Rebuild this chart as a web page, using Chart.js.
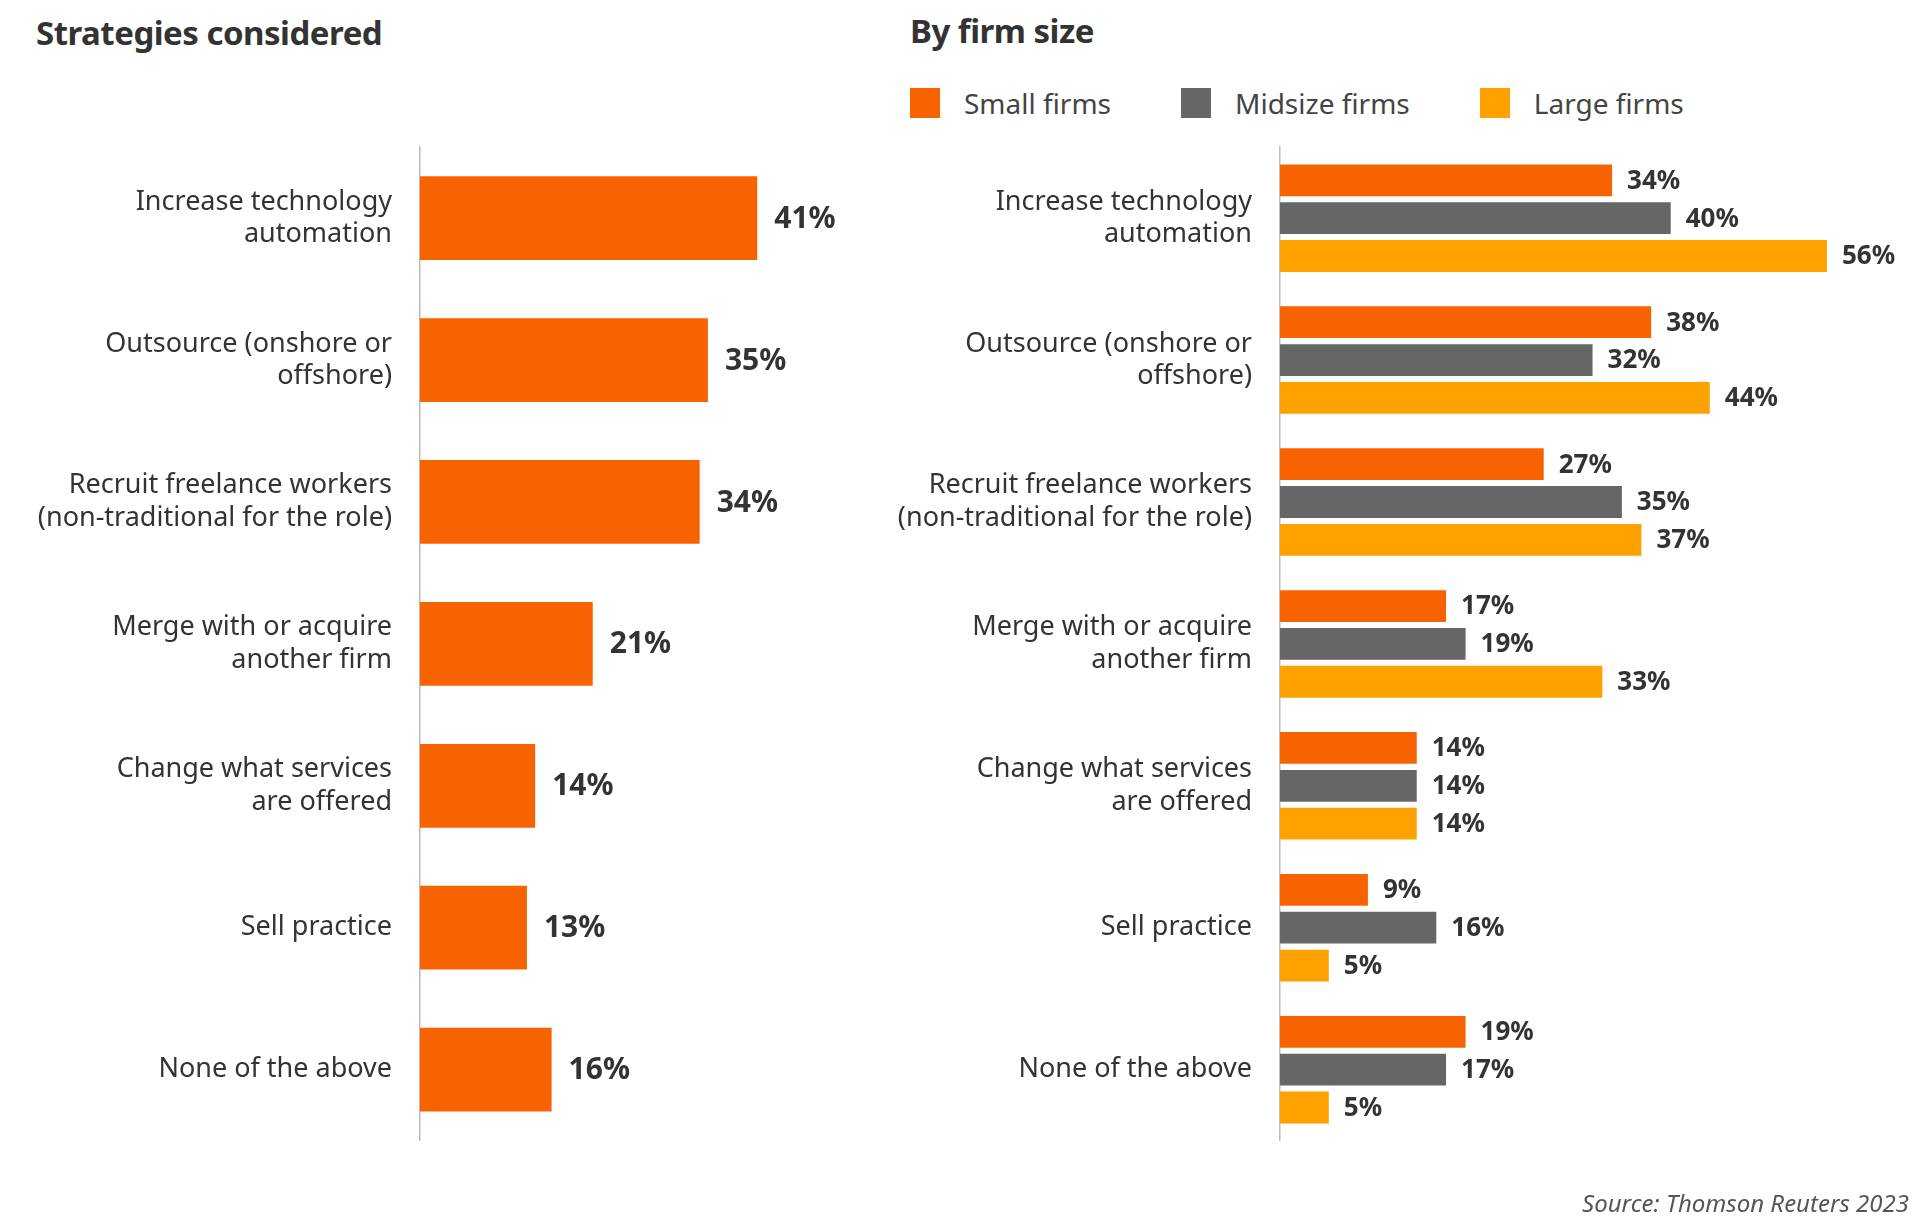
<!DOCTYPE html>
<html>
<head>
<meta charset="utf-8">
<script src="https://cdn.jsdelivr.net/npm/chart.js@4"></script>
<style>
  body { margin: 0; width: 1920px; height: 1224px; background: #fff; font-family: "Noto Sans", sans-serif; color: #333; position: relative; overflow: hidden; }
  .title { position: absolute; font-weight: bold; font-size: 33px; color: #333; letter-spacing: -0.5px; }
  .legend { position: absolute; top: 84px; left: 910px; display: flex; font-size: 28px; color: #444; }
  .legend span { display: flex; align-items: center; margin-right: 70px; }
  .legend i { display: inline-block; width: 30px; height: 30px; margin-right: 24px; }
  .source { position: absolute; right: 11px; top: 1186px; font-style: italic; font-size: 24px; color: #555; }
  canvas { position: absolute; }
</style>
</head>
<body>
<div class="title" style="left:36px;top:10px">Strategies considered</div>
<div class="title" style="left:910px;top:8px">By firm size</div>
<div class="legend">
  <span><i style="background:#f76300"></i>Small firms</span>
  <span><i style="background:#666666"></i>Midsize firms</span>
  <span><i style="background:#ffa200"></i>Large firms</span>
</div>
<div style="position:absolute;left:0;top:111px;width:930px;height:1082px"><canvas id="left"></canvas></div>
<div style="position:absolute;left:880px;top:111px;width:1030px;height:1082px"><canvas id="right"></canvas></div>
<div class="source">Source: Thomson Reuters 2023</div>
<script>
// Categories and values
const categories = [
  ['Increase technology', 'automation'],
  ['Outsource (onshore or', 'offshore)'],
  ['Recruit freelance workers', '(non-traditional for the role)'],
  ['Merge with or acquire', 'another firm'],
  ['Change what services', 'are offered'],
  ['Sell practice'],
  ['None of the above']
];
const overall = [41, 35, 34, 21, 14, 13, 16];
const smallFirms = [34, 38, 27, 17, 14, 9, 19];
const midsizeFirms = [40, 32, 35, 19, 14, 16, 17];
const largeFirms = [56, 44, 37, 33, 14, 5, 5];

const FONT = '"Noto Sans", sans-serif';

// Draw value labels at the end of each bar
const valueLabels = {
  id: 'valueLabels',
  afterDatasetsDraw(chart, args, opts) {
    const ctx = chart.ctx;
    ctx.save();
    ctx.font = 'bold ' + opts.size + 'px ' + FONT;
    ctx.fillStyle = '#333';
    ctx.textBaseline = 'middle';
    chart.data.datasets.forEach((ds, i) => {
      chart.getDatasetMeta(i).data.forEach((bar, j) => {
        ctx.fillText(ds.data[j] + '%', bar.x + opts.offset, bar.y + 1);
      });
    });
    ctx.restore();
  }
};

function makeOptions(axisWidth, xMax, labelSize, offset) {
  return {
    responsive: true,
    maintainAspectRatio: false,
    indexAxis: 'y',
    animation: false,
    layout: { padding: 0 },
    plugins: { legend: { display: false }, tooltip: { enabled: false }, valueLabels: { size: labelSize, offset: offset } },
    scales: {
      x: { display: false, min: 0, max: xMax },
      y: {
        afterFit(scale) { scale.width = axisWidth; },
        grid: { display: false },
        border: { color: '#bbbbbb', width: 1.5 },
        ticks: { color: '#333', font: { family: FONT, size: 27 }, padding: 20, crossAlign: 'near' }
      }
    }
  };
}

new Chart(document.getElementById('left'), {
  type: 'bar',
  data: {
    labels: categories,
    datasets: [{ data: overall, backgroundColor: '#f76300', categoryPercentage: 1, barPercentage: 0.59 }]
  },
  options: makeOptions(420, 62, 30, 17),
  plugins: [valueLabels]
});

new Chart(document.getElementById('right'), {
  type: 'bar',
  data: {
    labels: categories,
    datasets: [
      { data: smallFirms, backgroundColor: '#f76300', categoryPercentage: 0.8, barPercentage: 0.84 },
      { data: midsizeFirms, backgroundColor: '#666666', categoryPercentage: 0.8, barPercentage: 0.84 },
      { data: largeFirms, backgroundColor: '#ffa200', categoryPercentage: 0.8, barPercentage: 0.84 }
    ]
  },
  options: makeOptions(400, 64.5, 26, 15),
  plugins: [valueLabels]
});
</script>
</body>
</html>
